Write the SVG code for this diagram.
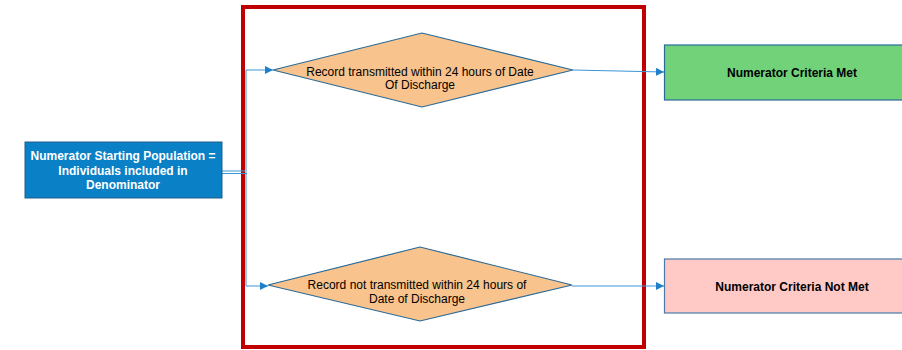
<svg xmlns="http://www.w3.org/2000/svg" width="902" height="350" viewBox="0 0 902 350">
<style>
.t{font-family:"Liberation Sans",Arial,sans-serif;font-size:12px;text-anchor:middle}
.b{font-weight:bold}
.w{fill:#ffffff}
.k{fill:#000000}
.c{fill:none;stroke:#3B97D8;stroke-width:1}
.dia{fill:#F8C38C;stroke:#2A6A98;stroke-width:1.2}
</style>
<defs>
<marker id="ah" viewBox="0 0 10 10" refX="10" refY="5" markerWidth="8" markerHeight="8" markerUnits="userSpaceOnUse" orient="auto">
<path d="M0,0 L10,5 L0,10 z" fill="#1F7FC8"/>
</marker>
</defs>
<rect x="243" y="7" width="401" height="340" fill="none" stroke="#C00000" stroke-width="4"/>
<g id="connectors">
<line class="c" x1="222" y1="171" x2="245" y2="171"/>
<line class="c" x1="222" y1="173.5" x2="247" y2="173.5"/>
<polyline class="c" points="246,172 246,70 273,70" marker-end="url(#ah)"/>
<polyline class="c" points="246,172 246,286 268,286" marker-end="url(#ah)"/>
<line class="c" x1="573" y1="70" x2="664" y2="72" marker-end="url(#ah)"/>
<line class="c" x1="572" y1="286" x2="664" y2="286" marker-end="url(#ah)"/>
</g>
<g id="start">
<rect x="25" y="142" width="197" height="56" fill="#0A80C6" stroke="#1F5F8B" stroke-width="1"/>
<text class="t b w" x="123" y="160">Numerator Starting Population =</text>
<text class="t b w" x="123" y="175">Individuals included in</text>
<text class="t b w" x="123" y="189">Denominator</text>
</g>
<g id="decision1">
<polygon class="dia" points="273,70 422,33 573,70 422,107"/>
<text class="t k" x="420" y="76">Record transmitted within 24 hours of Date</text>
<text class="t k" x="420" y="89">Of Discharge</text>
</g>
<g id="decision2">
<polygon class="dia" points="268,285 420,247 572,285 420,321"/>
<text class="t k" x="417" y="289">Record not transmitted within 24 hours of</text>
<text class="t k" x="417" y="303">Date of Discharge</text>
</g>
<g id="met">
<rect x="664.5" y="45" width="260" height="55" fill="#72D27A" stroke="#2A6A98" stroke-width="1.2"/>
<text class="t b k" x="792" y="77">Numerator Criteria Met</text>
</g>
<g id="notmet">
<rect x="664.5" y="259" width="260" height="54" fill="#FFC9C6" stroke="#4A7BA8" stroke-width="1.2"/>
<text class="t b k" x="792" y="291">Numerator Criteria Not Met</text>
</g>
</svg>
